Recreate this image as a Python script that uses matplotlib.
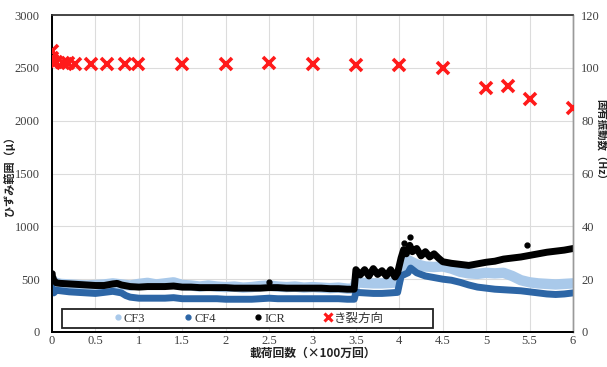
import matplotlib
matplotlib.use("Agg")
import matplotlib.pyplot as plt
from matplotlib.patches import Rectangle
from matplotlib.lines import Line2D

# ---------------- data ----------------
icr_x = [0, 0.02, 0.05, 0.1, 0.2, 0.3, 0.4, 0.5, 0.6, 0.7, 0.75, 0.8, 0.9, 1.0, 1.1, 1.2, 1.3, 1.4, 1.5, 1.6,
         1.7, 1.8, 1.9, 2.0, 2.1, 2.2, 2.3, 2.4, 2.5, 2.6, 2.7, 2.8, 2.9, 3.0, 3.1, 3.2, 3.3, 3.4, 3.48, 3.5,
         3.55, 3.6, 3.65, 3.7, 3.75, 3.8, 3.85, 3.9, 3.95, 3.98, 4.02, 4.05, 4.08, 4.12, 4.15, 4.2, 4.25, 4.3, 4.35, 4.4,
         4.45, 4.5, 4.6, 4.7, 4.8, 4.9, 5.0, 5.1, 5.2, 5.3, 5.4, 5.5, 5.6, 5.7, 5.8, 5.9, 6.0]
icr_y = [540, 490, 465, 460, 455, 450, 445, 440, 440, 455, 460, 445, 430, 425, 430, 430, 430, 435, 425, 425,
         420, 420, 420, 420, 415, 415, 415, 415, 420, 420, 415, 415, 415, 415, 415, 410, 410, 405, 405, 590,
         540, 590, 530, 600, 545, 580, 530, 590, 520, 560, 700, 780, 740, 820, 760, 790, 720, 760, 710, 740,
         700, 665, 650, 640, 630, 645, 660, 670, 690, 700, 710, 725, 740, 755, 765, 775, 790]
icr_dot_x = [0.0, 2.5, 4.12, 4.05, 5.47]
icr_dot_y = [560, 470, 900, 840, 825]

cf4_x = [0, 0.02, 0.05, 0.1, 0.2, 0.3, 0.4, 0.5, 0.6, 0.7, 0.8, 0.85, 0.9, 1.0, 1.1, 1.2, 1.3, 1.4, 1.5, 1.6,
         1.7, 1.8, 1.9, 2.0, 2.1, 2.2, 2.3, 2.4, 2.5, 2.6, 2.7, 2.8, 2.9, 3.0, 3.1, 3.2, 3.3, 3.4, 3.48, 3.5,
         3.6, 3.7, 3.8, 3.9, 3.98, 4.02, 4.1, 4.13, 4.2, 4.3, 4.4, 4.5, 4.6, 4.7, 4.8, 4.9, 5.0, 5.1, 5.2, 5.3,
         5.4, 5.5, 5.6, 5.7, 5.8, 5.9, 6.0]
cf4_y = [420, 370, 395, 390, 380, 375, 370, 365, 375, 385, 370, 345, 330, 320, 320, 320, 320, 325, 315, 315,
         315, 315, 315, 310, 310, 310, 310, 315, 320, 315, 315, 315, 315, 315, 315, 315, 315, 310, 310, 375,
         370, 365, 365, 370, 375, 530, 560, 605, 560, 530, 515, 500, 490, 470, 445, 425, 415, 405, 400, 395,
         390, 380, 370, 360, 355, 360, 370]

cf3_x = [0, 0.02, 0.1, 0.2, 0.3, 0.4, 0.5, 0.6, 0.7, 0.8, 0.9, 1.0, 1.1, 1.2, 1.3, 1.4, 1.5, 1.6, 1.7, 1.8,
         1.9, 2.0, 2.1, 2.2, 2.3, 2.4, 2.5, 2.6, 2.7, 2.8, 2.9, 3.0, 3.1, 3.2, 3.3, 3.4, 3.48, 3.5, 3.6, 3.7,
         3.8, 3.9, 3.98, 4.02, 4.1, 4.2, 4.3, 4.4, 4.5, 4.6, 4.7, 4.8, 4.9, 5.0, 5.1, 5.2, 5.3, 5.4, 5.5, 5.6,
         5.7, 5.8, 5.9, 6.0]
cf3_y = [500, 470, 455, 450, 445, 440, 445, 450, 460, 450, 440, 455, 465, 450, 460, 470, 445, 440, 430, 440,
         430, 425, 430, 420, 425, 435, 440, 430, 425, 430, 420, 425, 420, 415, 420, 410, 410, 470, 465, 460,
         460, 465, 470, 600, 680, 640, 620, 615, 620, 600, 570, 555, 550, 560, 555, 560, 530, 490, 470, 460,
         455, 450, 455, 460]

crack_x = [0, 0, 0, 0.05, 0.13, 0.19, 0.265, 0.445, 0.635, 0.84, 0.99, 1.5, 2.0, 2.5, 3.0, 3.5, 4.0,
           4.5, 5.0, 5.25, 5.5, 6.0]
crack_hz = [106.5, 103.8, 102.3, 102.3, 101.9, 101.7, 101.5, 101.5, 101.5, 101.5, 101.5, 101.5, 101.5,
            102.0, 101.5, 101.2, 101.0, 100.0, 92.5, 93.2, 88.3, 84.8]

x_ticks = [0, 0.5, 1, 1.5, 2, 2.5, 3, 3.5, 4, 4.5, 5, 5.5, 6]
x_tick_labels = ['0', '0.5', '1', '1.5', '2', '2.5', '3', '3.5', '4', '4.5', '5', '5.5', '6']
left_ticks = [0, 500, 1000, 1500, 2000, 2500, 3000]
right_ticks = [0, 20, 40, 60, 80, 100, 120]
legend_labels = ['CF3', 'CF4', 'ICR', 'き裂方向']

# ---------------- style ----------------
C_CF3 = '#a9c9ea'
C_CF4 = '#2d66a6'
C_ICR = '#000000'
C_RED = '#ff1a1a'
TXT = '#404040'
SERIF = ['Liberation Serif', 'DejaVu Serif']
JP = ['Noto Sans CJK JP', 'DejaVu Sans']

fig = plt.figure(figsize=(6.07, 3.67), dpi=100)
ax = fig.add_axes([52 / 607, 35 / 367, 521 / 607, 317 / 367])
ax2 = ax.twinx()

ax.plot(cf3_x, cf3_y, color=C_CF3, lw=7.5, solid_capstyle='round', zorder=2)
ax.plot(cf4_x, cf4_y, color=C_CF4, lw=5, solid_capstyle='round', zorder=3)
ax.plot(icr_x, icr_y, color=C_ICR, lw=5, solid_capstyle='round', zorder=4)
ax.plot(icr_dot_x, icr_dot_y, 'o', color=C_ICR, ms=3.5, ls='none', zorder=4)

ax2.plot(crack_x, crack_hz, 'x', color=C_RED, ms=9, mew=2.6, ls='none', zorder=5)

ax.set_xlim(0, 6)
ax.set_ylim(0, 3000)
ax2.set_ylim(0, 120)
ax.set_xticks(x_ticks)
ax.set_xticklabels(x_tick_labels)
ax.set_yticks(left_ticks)
ax2.set_yticks(right_ticks)

ax.grid(True, color='#dcdcdc', lw=0.8, zorder=0)
ax.set_axisbelow(True)

ax.tick_params(axis='x', length=0, labelsize=9, labelcolor=TXT, pad=2.5)
ax.tick_params(axis='y', length=0, labelsize=9, labelcolor=TXT, pad=9)
ax2.tick_params(axis='y', length=0, labelsize=9, labelcolor=TXT, pad=6)
for a in (ax, ax2):
    for lab in a.get_xticklabels() + a.get_yticklabels():
        lab.set_fontfamily(SERIF)

for a in (ax, ax2):
    a.spines['left'].set_color('#000000')
    a.spines['bottom'].set_color('#000000')
    a.spines['top'].set_color('#404040')
    a.spines['right'].set_color('#9a9a9a')
    a.spines['left'].set_linewidth(1.3)
    a.spines['bottom'].set_linewidth(1.3)
    a.spines['top'].set_linewidth(1.1)
    a.spines['right'].set_linewidth(1.0)

ax.set_xlabel('載荷回数（×100万回）', fontfamily=JP, fontsize=8.5, fontweight='bold', color='#222222',
              va='center')
ax.xaxis.set_label_coords(0.5, -21 / 317)
ax.set_ylabel('ひずみ範囲（μ）', fontfamily=JP, fontsize=8, fontweight='bold', color='#222222',
              va='center')
ax.yaxis.set_label_coords(-43 / 521, 0.5)
ax2.set_ylabel('固有振動数（Hz）', fontfamily=JP, fontsize=7.5, fontweight='bold', color='#222222',
               rotation=270, va='center')
ax2.yaxis.set_label_coords(549 / 521, 0.6)

# legend box
box = Rectangle((10 / 521, 4 / 317), 371 / 521, 19 / 317, transform=ax2.transAxes,
                facecolor='white', edgecolor='#222222', lw=1.3, zorder=6)
ax2.add_patch(box)
handles = [Line2D([], [], marker='o', color=C_CF3, ls='none', ms=3.5),
           Line2D([], [], marker='o', color=C_CF4, ls='none', ms=3.5),
           Line2D([], [], marker='o', color=C_ICR, ls='none', ms=3.5),
           Line2D([], [], marker='x', color=C_RED, ls='none', ms=6, mew=2.2)]
leg = ax2.legend(handles, legend_labels, ncol=4, loc='center',
                 bbox_to_anchor=(197 / 521, 13.5 / 317), frameon=False,
                 handlelength=0.6, handletextpad=0.2, columnspacing=3.1,
                 prop={'family': SERIF + ['Noto Sans CJK JP'], 'size': 9})
leg.set_zorder(7)
for t in leg.get_texts():
    t.set_color('#333333')

fig.savefig('out.png', dpi=100)
